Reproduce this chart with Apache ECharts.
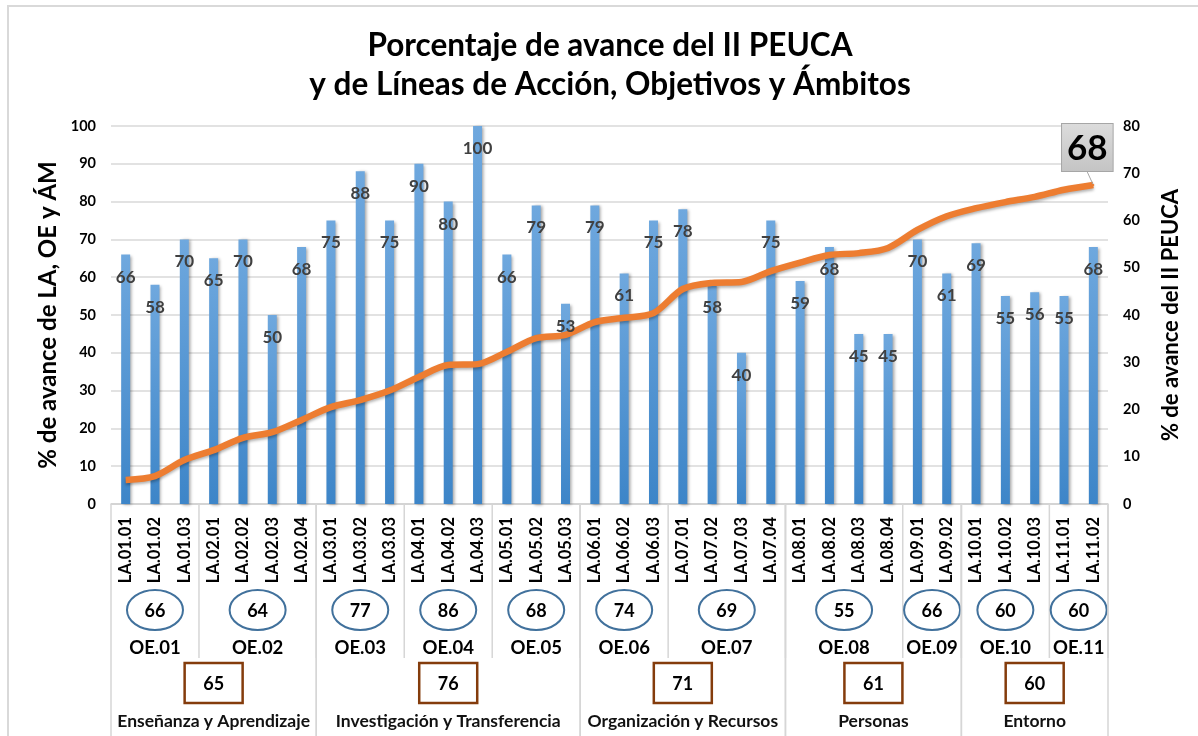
<!DOCTYPE html>
<html>
<head>
<meta charset="utf-8">
<title>Porcentaje de avance del II PEUCA</title>
<script src="https://cdn.jsdelivr.net/npm/echarts@6/dist/echarts.min.js"></script>
<style>
  html, body { margin: 0; padding: 0; background: #fff; }
  #chart { width: 1198px; height: 736px; }
</style>
</head>
<body>
<div id="chart"></div>
<script>
// Líneas de acción (eje de categorías)
const laLabels = [
  'LA.01.01', 'LA.01.02', 'LA.01.03',
  'LA.02.01', 'LA.02.02', 'LA.02.03', 'LA.02.04',
  'LA.03.01', 'LA.03.02', 'LA.03.03',
  'LA.04.01', 'LA.04.02', 'LA.04.03',
  'LA.05.01', 'LA.05.02', 'LA.05.03',
  'LA.06.01', 'LA.06.02', 'LA.06.03',
  'LA.07.01', 'LA.07.02', 'LA.07.03', 'LA.07.04',
  'LA.08.01', 'LA.08.02', 'LA.08.03', 'LA.08.04',
  'LA.09.01', 'LA.09.02',
  'LA.10.01', 'LA.10.02', 'LA.10.03',
  'LA.11.01', 'LA.11.02'
]
// % de avance de cada LA (barras, eje izq.)
const laValues = [
  66, 58, 70,
  65, 70, 50, 68,
  75, 88, 75,
  90, 80, 100,
  66, 79, 53,
  79, 61, 75,
  78, 58, 40, 75,
  59, 68, 45, 45,
  70, 61,
  69, 55, 56,
  55, 68
]
// % de avance acumulado del II PEUCA (línea, eje der.)
const peucaValues = [
  5.1, 5.9, 9.3,
  11.4, 14.0, 15.2, 17.8,
  20.5, 22.0, 24.0,
  26.9, 29.4, 29.6,
  32.2, 35.1, 35.8,
  38.5, 39.4, 40.4,
  45.5, 46.8, 47.0, 49.3,
  51.1, 52.7, 53.1, 54.2,
  58.0, 60.9,
  62.6, 63.9, 65.0,
  66.5, 67.5
]
// Objetivos estratégicos
const oeNames = ['OE.01', 'OE.02', 'OE.03', 'OE.04', 'OE.05', 'OE.06', 'OE.07', 'OE.08', 'OE.09', 'OE.10', 'OE.11']
const oeValues = [66, 64, 77, 86, 68, 74, 69, 55, 66, 60, 60]
// Ámbitos
const ambitNames = ['Enseñanza y Aprendizaje', 'Investigación y Transferencia', 'Organización y Recursos', 'Personas', 'Entorno']
const ambitValues = [65, 76, 71, 61, 60]
const ambitOeCount = [2, 3, 2, 2, 2]

const FONT = 'Lato, "Open Sans", sans-serif'

// rangos de categorías por OE: [inicio, fin, valor]
const oeGroups = []
laLabels.forEach((lab, i) => {
  const k = parseInt(lab.slice(3, 5), 10) - 1
  if (!oeGroups[k]) oeGroups[k] = [i, i, oeValues[k]]
  else oeGroups[k][1] = i
})
// rangos de categorías por ámbito
const ambitGroups = []
let oeIdx = 0
ambitOeCount.forEach((n, j) => {
  const first = oeGroups[oeIdx], last = oeGroups[oeIdx + n - 1]
  ambitGroups.push([first[0], last[1], ambitValues[j]])
  oeIdx += n
})

const sepColor = '#D6D6D6'

function oeItem(params, api) {
  const a = api.coord([api.value(0), 0])
  const b = api.coord([api.value(1), 0])
  const half = api.size([1, 0])[0] / 2
  const cx = (a[0] + b[0]) / 2
  const base = a[1]
  const right = b[0] + half
  return {
    type: 'group',
    children: [
      { type: 'line', shape: { x1: right, y1: base, x2: right, y2: base + 154 }, style: { stroke: sepColor, lineWidth: 1.5 } },
      { type: 'ellipse', shape: { cx: cx, cy: base + 106, rx: 28, ry: 20 }, style: { fill: '#fff', stroke: '#41719C', lineWidth: 2 } },
      { type: 'text', x: cx, y: base + 107, style: { text: String(api.value(2)), font: 'bold 18px ' + FONT, fill: '#000', align: 'center', verticalAlign: 'middle' } },
      { type: 'text', x: cx, y: base + 144, style: { text: oeNames[params.dataIndex], font: 'bold 18.5px ' + FONT, fill: '#000', align: 'center', verticalAlign: 'middle' } }
    ]
  }
}

function ambitItem(params, api) {
  const a = api.coord([api.value(0), 0])
  const b = api.coord([api.value(1), 0])
  const half = api.size([1, 0])[0] / 2
  const left = a[0] - half, right = b[0] + half
  const cx = (left + right) / 2
  const base = a[1]
  return {
    type: 'group',
    children: [
      { type: 'line', shape: { x1: left, y1: base, x2: left, y2: base + 232 }, style: { stroke: sepColor, lineWidth: 1.5 } },
      { type: 'line', shape: { x1: right, y1: base, x2: right, y2: base + 232 }, style: { stroke: sepColor, lineWidth: 1.5 } },
      { type: 'rect', shape: { x: cx - 29, y: base + 159, width: 58, height: 40 }, style: { fill: '#fff', stroke: '#843C0C', lineWidth: 2.5 } },
      { type: 'text', x: cx, y: base + 180, style: { text: String(api.value(2)), font: 'bold 18px ' + FONT, fill: '#000', align: 'center', verticalAlign: 'middle' } },
      { type: 'text', x: cx, y: base + 217, style: { text: ambitNames[params.dataIndex], font: 'bold 17.5px ' + FONT, fill: '#111', align: 'center', verticalAlign: 'middle' } }
    ]
  }
}

const chart = echarts.init(document.getElementById('chart'))

const lastIdx = peucaValues.length - 1
const lineData = peucaValues.map((v, i) => {
  if (i !== lastIdx) return v
  return {
    value: v,
    symbol: 'circle',
    symbolSize: 2,
    label: {
      show: true,
      position: 'top',
      distance: 13,
      formatter: p => Math.round(p.value),
      fontFamily: FONT,
      fontSize: 35,
      fontWeight: 'bold',
      color: '#000',
      backgroundColor: new echarts.graphic.LinearGradient(0, 0, 0, 1, [
        { offset: 0, color: '#DCDCDC' }, { offset: 1, color: '#C4C4C4' }
      ]),
      borderColor: '#A6A6A6',
      borderWidth: 1,
      padding: [7, 5, 5, 5]
    },
    labelLine: { show: true, lineStyle: { color: '#A6A6A6', width: 1 } }
  }
})

const barLabel = {
  show: true, position: 'insideTop', distance: 14,
  fontFamily: FONT, fontSize: 17, fontWeight: 'bold', color: '#404040'
}

chart.setOption({
  animation: false,
  textStyle: { fontFamily: FONT },
  graphic: [
    { type: 'rect', shape: { x: 8, y: 6, width: 1300, height: 800 }, style: { fill: 'none', stroke: '#D9D9D9', lineWidth: 2 }, z: -10 }
  ],
  title: {
    text: 'Porcentaje de avance del II PEUCA\ny de Líneas de Acción, Objetivos y Ámbitos',
    left: 605,
    top: 21,
    textAlign: 'center',
    textStyle: { fontFamily: FONT, fontSize: 31.5, fontWeight: 'bold', color: '#000', lineHeight: 39 }
  },
  grid: { left: 111, right: 90, top: 126, bottom: 232 },
  xAxis: {
    type: 'category',
    data: laLabels,
    axisLine: { lineStyle: { color: '#D0D0D0', width: 1.5 } },
    axisTick: { show: false },
    axisLabel: { rotate: 90, margin: 13, interval: 0, fontFamily: FONT, fontSize: 16.5, fontWeight: 'bold', color: '#000' }
  },
  yAxis: [
    {
      type: 'value', min: 0, max: 100, interval: 10,
      name: '% de avance de LA, OE y ÁM',
      nameLocation: 'middle', nameGap: 42,
      nameTextStyle: { fontFamily: FONT, fontSize: 24, fontWeight: 'bold', color: '#000' },
      axisLine: { show: false }, axisTick: { show: false },
      axisLabel: { margin: 15, fontFamily: FONT, fontSize: 14.5, fontWeight: 'bold', color: '#000' },
      splitLine: { lineStyle: { color: '#D9D9D9', width: 1.5 } }
    },
    {
      type: 'value', min: 0, max: 80, interval: 10,
      name: '% de avance del II PEUCA',
      nameLocation: 'middle', nameGap: 52,
      nameTextStyle: { fontFamily: FONT, fontSize: 22, fontWeight: 'bold', color: '#000' },
      axisLine: { show: false }, axisTick: { show: false },
      axisLabel: { margin: 15, fontFamily: FONT, fontSize: 14.5, fontWeight: 'bold', color: '#000' },
      splitLine: { show: false }
    }
  ],
  series: [
    {
      name: 'LA',
      type: 'bar',
      data: laValues,
      barWidth: 9,
      itemStyle: {
        color: new echarts.graphic.LinearGradient(0, 0, 0, 1, [
          { offset: 0, color: '#6FA8DE' }, { offset: 1, color: '#3D85C8' }
        ]),
        shadowColor: 'rgba(0,0,0,0.35)', shadowBlur: 3, shadowOffsetX: 2, shadowOffsetY: 1
      },
      z: 2
    },
    {
      name: 'II PEUCA',
      type: 'line',
      yAxisIndex: 1,
      data: lineData,
      smooth: 0.3,
      symbol: 'none',
      showSymbol: true,
      lineStyle: { color: '#ED7D31', width: 6.5, shadowColor: 'rgba(0,0,0,0.3)', shadowBlur: 3, shadowOffsetY: 2 },
      itemStyle: { color: '#ED7D31' },
      labelLayout: p => (p.dataIndex === lastIdx ? { dx: -6 } : {}),
      z: 5
    },
    {
      // etiquetas de las barras por encima de la línea
      name: 'LA etiquetas',
      type: 'bar',
      data: laValues,
      barWidth: 9,
      barGap: '-100%',
      itemStyle: { color: 'rgba(0,0,0,0)' },
      label: barLabel,
      silent: true,
      z: 6
    },
    {
      name: 'OE',
      type: 'custom',
      data: oeGroups,
      encode: { x: [0, 1], y: 2 },
      renderItem: oeItem,
      clip: false,
      silent: true,
      z: 3
    },
    {
      name: 'Ámbitos',
      type: 'custom',
      data: ambitGroups,
      encode: { x: [0, 1], y: 2 },
      renderItem: ambitItem,
      clip: false,
      silent: true,
      z: 3
    }
  ]
})
</script>
</body>
</html>
